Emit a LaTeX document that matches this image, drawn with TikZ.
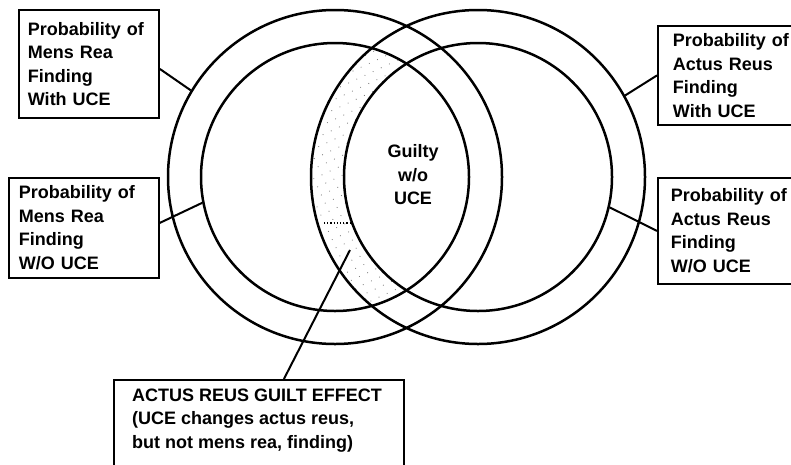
\documentclass[tikz,border=0pt]{standalone}
\usepackage{fontspec}
\setmainfont{Liberation Sans}
\usetikzlibrary{calc,patterns.meta}
\begin{document}
\begin{tikzpicture}[x=1pt,y=-1pt,
  ring/.style={circle, draw, line width=2.5pt, inner sep=0pt},
  labelfont/.style={font=\bfseries\fontsize{18}{23.5}\selectfont},
  labelbox/.style={labelfont, draw, line width=1.8pt, rectangle, anchor=north west,
                   align=left, inner ysep=3pt},
  leader/.style={line width=2pt},
  stipple/.style={pattern={Dots[radius=0.6pt,distance=9pt,angle=25]}, pattern color=black!50}]
\useasboundingbox (0,0) rectangle (791,464);
\clip (0,0) rectangle (791,464);

% centres of the two pairs of concentric rings
\coordinate (cL) at (335,177);
\coordinate (cR) at (478,177);

% actus reus guilt effect: inside the inner left ring and the outer right ring,
% outside the inner right ring
\begin{scope}
  \clip (cL) circle (134pt);
  \fill[stipple, even odd rule] (cR) circle (167pt) (cR) circle (134pt);
  \clip (cR) circle (167pt);
  \draw[dotted, line width=1.2pt] (324,223) -- (352,223);
\end{scope}

% mens rea rings (left) and actus reus rings (right)
\node[ring, minimum size=334pt] (LO) at (cL) {};
\node[ring, minimum size=268pt] (LI) at (cL) {};
\node[ring, minimum size=334pt] (RO) at (cR) {};
\node[ring, minimum size=268pt] (RI) at (cR) {};

\node (g) [labelfont, align=center, inner sep=0pt] at (413,175) {Guilty\\w/o\\UCE};

% label boxes
\node (b1) [labelbox, inner xsep=9pt, text width=122pt, minimum height=108pt] at (18,9)
  {Probability of\\Mens Rea\\Finding\\With UCE};
\node (b2) [labelbox, inner xsep=10pt, text width=130pt, minimum height=100pt] at (8,177)
  {Probability of\\Mens Rea\\Finding\\W/O UCE};
\node (b3) [labelbox, inner xsep=15pt, text width=130pt, minimum height=99pt] at (657,25)
  {Probability of\\Actus Reus\\Finding\\With UCE};
\node (b4) [labelbox, inner xsep=13pt, text width=132pt, minimum height=106pt] at (657,177)
  {Probability of\\Actus Reus\\Finding\\W/O UCE};

\node (b5) [draw, line width=1.8pt, rectangle, anchor=north west,
            minimum width=290pt, minimum height=92pt] at (113,379) {};
\node (t5) [labelfont, align=left, anchor=north west, inner sep=0pt] at (132,388.5)
  {ACTUS REUS GUILT EFFECT\\(UCE changes actus reus,\\but not mens rea, finding)};

% leaders
\coordinate (ae) at (350,250);
\draw[leader] ([yshift=-5pt]b1.east) -- (LO.149);
\draw[leader] ([yshift=5pt]b2.east) -- (LI.191);
\draw[leader] (b3.west) -- (RO.29.5);
\draw[leader] (b4.west) -- (RI.-13.5);
\draw[leader] ([xshift=25pt]b5.north) -- (ae);
\end{tikzpicture}
\end{document}
